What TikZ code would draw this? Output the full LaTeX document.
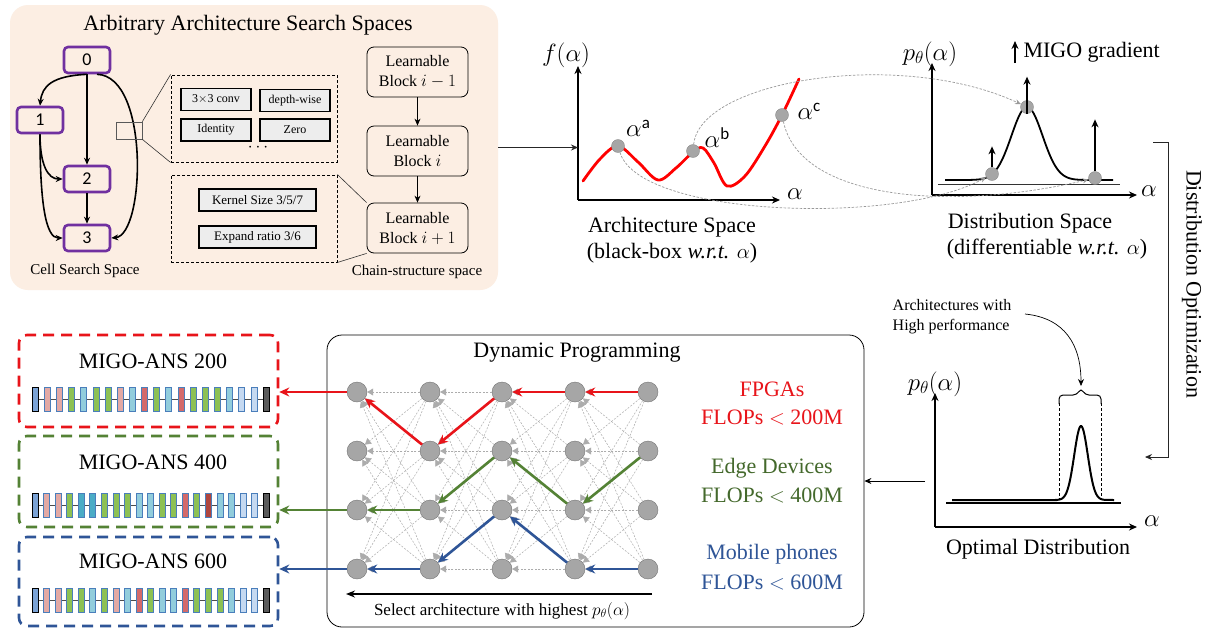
\documentclass[tikz,border=0pt]{standalone}
\usepackage{fontspec}
\setmainfont{Liberation Serif}
\newfontfamily\carl{Carlito}
\usetikzlibrary{arrows.meta,calc}
\definecolor{peach}{HTML}{FCEEE3}
\definecolor{purp}{HTML}{7030A0}
\definecolor{opgray}{HTML}{EDEDED}
\definecolor{ptred}{HTML}{E8141A}
\definecolor{ptgreen}{HTML}{548235}
\definecolor{ptblue}{HTML}{2F5597}
\definecolor{txgreen}{HTML}{44692C}
\definecolor{dotgray}{HTML}{A6A6A6}
\definecolor{sb}{HTML}{7BA3D6}
\definecolor{pk}{HTML}{E3A9A4}
\definecolor{gr}{HTML}{8DC153}
\definecolor{cy}{HTML}{92CDDC}
\definecolor{tl}{HTML}{4BACC6}
\definecolor{rd}{HTML}{D46A6A}
\definecolor{drd}{HTML}{B0463F}
\definecolor{pb}{HTML}{C5D9F1}
\definecolor{dg}{HTML}{5A5A5A}
\definecolor{bb}{HTML}{4A7EBB}
\newcommand\fsz[1]{\fontsize{#1}{#1}\selectfont}
\newcommand\supl[1]{$\alpha$\raisebox{8pt}{\carl\fsz{17}#1}}
\newcommand\netstrip[3]{%
  \draw[line width=0.8pt, gray!60!black] (35,#1) -- (266,#1);
  \node[nblk, draw=black, fill=sb] at (35,#1) {};
  \foreach \cl [count=\i] in {#3} {\node[nblk, fill=\cl] at ({35+\i*#2},#1) {};}
  \node[nblk, draw=black, fill=dg] at (266,#1) {};
}
\tikzset{
  cellnode/.style={draw=purp, line width=2.6pt, rounded corners=4pt, minimum width=46pt, minimum height=26pt, inner sep=0, font=\carl\fsz{18}},
  opbox/.style={draw, line width=1.6pt, fill=opgray, minimum width=70pt, minimum height=22pt, inner sep=0, font=\fsz{12}},
  lblock/.style={draw, line width=0.8pt, rounded corners=7pt, minimum width=101pt, minimum height=50pt, align=center, font=\fontsize{16}{20}\selectfont, inner sep=0},
  dpnode/.style={circle, fill=dotgray, draw=gray!90!black, line width=0.4pt, minimum size=20pt, inner sep=0},
  dotpt/.style={circle, fill=dotgray, draw=gray, line width=0.3pt, minimum size=13pt, inner sep=0},
  axisarr/.style={line width=1.8pt, -{Stealth[length=8pt,width=7pt]}},
  ghost/.style={gray!65, line width=0.5pt, dash pattern=on 2pt off 1.5pt, -{Triangle[length=6pt,width=7pt]}},
  ghostc/.style={gray!80, line width=0.7pt, dash pattern=on 2.5pt off 1.5pt, -{Stealth[length=6pt,width=5pt]}},
  patharr/.style={line width=2.6pt, -{Stealth[length=10pt,width=9pt]}},
  thinarr/.style={line width=0.8pt, -{Stealth[length=7pt,width=6pt]}},
  garr/.style={line width=2pt, -{Stealth[length=8pt,width=7pt]}},
  migobox/.style={line width=2.6pt, dash pattern=on 11pt off 7pt, rounded corners=8pt, minimum width=259pt},
  nblk/.style={draw=bb, line width=0.6pt, minimum width=6pt, minimum height=24pt, inner sep=0},
  dbox/.style={draw, line width=0.9pt, dash pattern=on 3pt off 2pt},
  lab/.style={font=\fsz{22}},
  mlab/.style={font=\fsz{26}},
}
\begin{document}
\begin{tikzpicture}[x=1pt,y=-1pt]
\useasboundingbox (0,0) rectangle (1210,633);
\fill[white] (0,0) rectangle (1210,633);

% ---------- top-left panel ----------
\node[fill=peach, rounded corners=18pt, minimum width=488pt, minimum height=285pt, inner sep=0] (panel) at (254,147.5) {};
\node[font=\fsz{22}] (ptitle) at (248,25) {Arbitrary Architecture Search Spaces};

\node[cellnode] (c0) at (87,60) {0};
\node[cellnode] (c1) at (40,120) {1};
\node[cellnode] (c2) at (87,179) {2};
\node[cellnode] (c3) at (87,238) {3};
\begin{scope}[line width=1.6pt, -{Stealth[length=7pt,width=6pt]}]
\draw (c0.south) .. controls (52,76) and (42,86) .. (c1.north);
\draw (c0.south) -- (c2.north);
\draw (c2.south) -- (c3.north);
\draw ([xshift=10pt]c0.south) .. controls (150,76) and (145,235) .. (c3.east);
\draw (c1.south) .. controls (40,165) and (48,179) .. (c2.west);
\draw (c1.south) .. controls (40,205) and (46,238) .. (c3.west);
\end{scope}
\node[draw=gray!70!black, line width=0.7pt, minimum width=26pt, minimum height=17pt, inner sep=0] (sq) at (129,130.5) {};

\node[dbox, minimum width=166pt, minimum height=87pt, inner sep=0] (db1) at (254,118.5) {};
\node[dbox, minimum width=166pt, minimum height=87pt, inner sep=0] (db2) at (254,218.5) {};
\draw[line width=0.6pt, gray!40!black] (sq.north east) -- (db1.north west);
\draw[line width=0.6pt, gray!40!black] (sq.south east) -- (db1.south west);

\node[opbox] (o1) at (216,99.5) {3$\times$3 conv};
\node[opbox] (o2) at (295,100.5) {depth-wise};
\node[opbox] (o3) at (216,130) {Identity};
\node[opbox] (o4) at (295,130) {Zero};
\node[font=\fsz{16}] (dots) at (258,148) {$\cdots$};
\node[opbox, minimum width=117pt, font=\fsz{13}] (k1) at (257.5,200) {Kernel Size 3/5/7};
\node[opbox, minimum width=117pt, font=\fsz{13}] (k2) at (257.5,237) {Expand ratio 3/6};

\node[lblock] (b1) at (417.5,72) {Learnable\\Block $i-1$};
\node[lblock] (b2) at (417.5,151) {Learnable\\Block $i$};
\node[lblock] (b3) at (417.5,228) {Learnable\\Block $i+1$};
\draw[thinarr] (b1) -- (b2);
\draw[thinarr] (b2) -- (b3);
\draw[line width=0.6pt, gray!40!black] (db2.north east) -- (b3.north west);
\draw[line width=0.6pt, gray!40!black] (db2.south east) -- (b3.south west);

\node[font=\fsz{15}] (lcell) at (85,271) {Cell Search Space};
\node[font=\fsz{15}] (lchain) at (417,272) {Chain-structure space};

% ---------- architecture space ----------
\coordinate (fo) at (578,200);
\draw[axisarr] (fo) -- (578,66);
\draw[axisarr] (fo) -- (780,200);
\node[mlab] (fl) at (566,55) {$f(\alpha)$};
\node[mlab] (al1) at (795,194) {$\alpha$};
\draw[thinarr, gray!30!black] (panel.east) -- (fo |- panel.east);
\draw[red, line width=2.8pt, line cap=round] plot[smooth, tension=0.55] coordinates {(583,181) (600,159) (618,146) (638,162) (658,180) (676,168) (693,152) (703,148) (714,163) (727,186) (745,176) (765,146) (782,115) (799,79)};
\node[dotpt] (pa) at (618,146) {};
\node[dotpt] (pb) at (693,151) {};
\node[dotpt] (pc) at (782,115) {};
\node[mlab] (la) at (638,128) {\supl{a}};
\node[mlab] (lb) at (717,138) {\supl{b}};
\node[mlab] (lc) at (809,111) {\supl{c}};
\node[lab] (asp1) at (672,227) {Architecture Space};
\node[lab] (asp2) at (672,253) {(black-box \textit{w.r.t.} $\alpha$)};

% ---------- distribution space ----------
\coordinate (go) at (932,195);
\draw[axisarr] (go) -- (932,63);
\draw[axisarr] (go) -- (1137,195);
\node[mlab] (pl) at (930,54) {$p_\theta(\alpha)$};
\node[mlab] (al2) at (1149,191) {$\alpha$};
\draw[line width=1pt, gray!40!black] (938,184) -- (1120,184);
\draw[line width=1.8pt] plot[domain=945:1113, samples=120] (\x,{180-73*exp(-((\x-1027)/22)^2)});
\node[dotpt] (qa) at (992,174) {};
\node[dotpt] (qb) at (1027,107) {};
\node[dotpt] (qc) at (1095,178) {};
\draw[garr] (qa.north) -- ++(0,-21);
\draw[garr] (qb.south) -- ++(0,-37);
\draw[garr] (qc.north) -- ++(0,-52);
\draw[garr] (1015,63) -- (1015,41);
\node[anchor=west, lab] (mg) at (1020,52) {MIGO gradient};
\node[lab] (dsp1) at (1030,223) {Distribution Space};
\node[lab] (dsp2) at (1047,249) {(differentiable \textit{w.r.t.} $\alpha$)};
\draw[ghostc] (pb) .. controls (700,80) and (900,48) .. (qb);
\draw[ghostc] (pa) .. controls (640,218) and (900,225) .. (qa);
\draw[ghostc] (pc) .. controls (800,200) and (950,212) .. (qc);

% ---------- distribution optimization ----------
\coordinate (do1) at (1153,142);
\coordinate (do2) at (1145,457);
\draw[line width=0.8pt, gray!30!black, -{Stealth[length=7pt,width=6pt]}] (do1) -- (1168,142) -- (1168,457) -- (do2);
\node[rotate=-90, lab] (dolab) at (1192,284) {Distribution Optimization};

% ---------- optimal distribution ----------
\coordinate (ho) at (935,527);
\draw[axisarr] (ho) -- (935,393);
\draw[axisarr] (ho) -- (1137,527);
\node[mlab] (pl2) at (935,384) {$p_\theta(\alpha)$};
\node[mlab] (al3) at (1152,521) {$\alpha$};
\draw[line width=1.1pt] (946,503) -- (1121,503);
\draw[line width=2pt] (952,500) -- (1056,500) -- plot[domain=1056:1106, samples=80] (\x,{500-74*exp(-((\x-1081)/9.6)^2)}) -- (1114,500);
\draw[line width=0.8pt, dash pattern=on 3pt off 2pt] (1059,403) -- (1059,500);
\draw[line width=0.8pt, dash pattern=on 3pt off 2pt] (1101,403) -- (1101,500);
\draw[line width=1pt, rounded corners=4pt] (1059,404) -- (1059,395) -- (1077,395) -- (1081,388) -- (1085,395) -- (1101,395) -- (1101,404);
\coordinate (brt) at (1081,386);
\node[align=left, font=\fontsize{16}{20}\selectfont, inner sep=0] (hp) at (952,317) {Architectures with\\High performance};
\coordinate (hpa) at (1025,314);
\draw[line width=0.7pt, -{Stealth[length=7pt,width=6pt]}] (hpa) .. controls (1065,318) and (1081,345) .. (brt);
\node[lab] (optd) at (1038,549) {Optimal Distribution};
\coordinate (od) at (925,481);

% ---------- dynamic programming ----------
\node[draw, line width=0.8pt, rounded corners=15pt, minimum width=537pt, minimum height=292pt, inner sep=0] (dp) at (595.5,481) {};
\draw[thinarr] (od) -- (dp.east |- od);
\node[lab] (dpt) at (577,353) {Dynamic Programming};
\foreach \c/\xx in {1/357,2/430,3/502,4/575,5/648}{
  \foreach \r/\yy in {1/392,2/451,3/510,4/569}{
    \node[dpnode] (n\c\r) at (\xx,\yy) {};
  }
}
\foreach \c in {2,...,5}{
  \pgfmathtruncatemacro\pc{\c-1}
  \foreach \r in {1,...,4}{
    \foreach \s in {1,...,4}{
      \draw[ghost] (n\c\r) -- (n\pc\s);
    }
  }
}
\node[lab, text=ptred] (t1) at (772,389) {FPGAs};
\node[lab, text=ptred] (t2) at (772,417) {FLOPs $<$ 200M};
\node[lab, text=txgreen] (t3) at (772,468) {Edge Devices};
\node[lab, text=txgreen] (t4) at (772,495) {FLOPs $<$ 400M};
\node[lab, text=ptblue] (t5) at (772,554) {Mobile phones};
\node[lab, text=ptblue] (t6) at (772,582) {FLOPs $<$ 600M};
\coordinate (sa1) at (652,594);
\coordinate (sa2) at (346,594);
\draw[line width=1.6pt, -{Stealth[length=9pt,width=7pt]}] (sa1) -- (sa2);
\node[font=\fsz{17}] (selt) at (502,611) {Select architecture with highest $p_\theta(\alpha)$};

% ---------- MIGO-ANS boxes ----------
\node[migobox, draw=ptred, minimum height=92pt] (m200) at (148.5,381) {};
\node[migobox, draw=ptgreen, minimum height=91pt] (m400) at (148.5,481.5) {};
\node[migobox, draw=ptblue, minimum height=89pt] (m600) at (148.5,581.5) {};
\node[lab] (tt1) at (153,361) {MIGO-ANS 200};
\node[lab] (tt2) at (153,462) {MIGO-ANS 400};
\node[lab] (tt3) at (153,561) {MIGO-ANS 600};
\netstrip{399}{12.16}{pk,pk,gr,cy,gr,gr,pk,cy,rd,gr,cy,rd,gr,gr,gr,cy,pb,pb}
\netstrip{505}{11.55}{pk,pk,gr,tl,tl,gr,gr,gr,cy,cy,gr,gr,rd,gr,drd,cy,cy,pb,pb}
\netstrip{600}{11.55}{pk,pk,gr,gr,cy,gr,pk,cy,rd,gr,cy,cy,rd,gr,gr,gr,cy,pb,pb}

% ---------- coloured paths ----------
\begin{scope}[patharr, ptred]
\draw (n51) -- (n41); \draw (n41) -- (n31); \draw (n31) -- (n22); \draw (n22) -- (n11);
\draw (n11) -- (m200.east |- n11);
\end{scope}
\begin{scope}[patharr, ptgreen]
\draw (n52) -- (n43); \draw (n43) -- (n32); \draw (n32) -- (n23); \draw (n23) -- (n13);
\draw (n13) -- (m400.east |- n13);
\end{scope}
\begin{scope}[patharr, ptblue]
\draw (n54) -- (n44); \draw (n44) -- (n33); \draw (n33) -- (n24); \draw (n24) -- (n14);
\draw (n14) -- (m600.east |- n14);
\end{scope}
\end{tikzpicture}
\end{document}
